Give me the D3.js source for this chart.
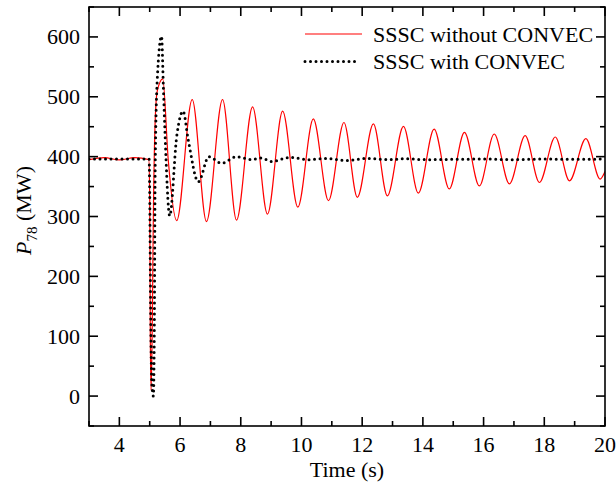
<!DOCTYPE html>
<html>
<head>
<meta charset="utf-8">
<script src="https://cdn.jsdelivr.net/npm/d3@7"></script>
<style>
  html, body { margin: 0; padding: 0; background: #fff; }
  svg { display: block; }
  text { font-family: "Liberation Serif", "Times New Roman", serif; fill: #000; }
</style>
</head>
<body>
<svg id="chart" width="616" height="484"></svg>
<script>
// ---- data ----
const seriesNames = ["SSSC without CONVEC", "SSSC with CONVEC"];

const timeWithout = [3.0, 3.5, 4.0, 4.5, 4.97, 5.0, 5.02, 5.045, 5.08, 5.12, 5.18, 5.25, 5.43, 5.61, 5.89,
  6.40, 6.87, 7.40, 7.86, 8.39, 8.88, 9.38, 9.88, 10.39, 10.89, 11.40, 11.84, 12.37, 12.83,
  13.36, 13.85, 14.37, 14.87, 15.37, 15.86, 16.35, 16.85, 17.37, 17.84, 18.36, 18.83, 19.37, 19.84, 20.0];
const powerWithout = [395, 398.5, 394.5, 398.5, 395, 330, 100, 10, 100, 300, 460, 510, 530, 395, 293,
  495.5, 291.5, 495.5, 294, 483, 304, 476, 315.5, 463, 326.6, 457, 332, 454.6, 334.5,
  450.6, 339, 446, 346, 440.6, 351, 437.8, 354.6, 435, 356.8, 432.8, 359.6, 430, 362.5, 375];

const timeWith = [3.0, 3.5, 4.0, 4.5, 4.98, 5.0, 5.03, 5.07, 5.12, 5.15, 5.18, 5.25, 5.39, 5.45, 5.5, 5.66,
  5.89, 6.10, 6.27, 6.60, 6.95, 7.37, 7.86, 8.35, 8.68, 9.01, 9.62, 10.22, 10.83, 11.49, 12.15,
  12.92, 13.36, 14.12, 15.0, 16.0, 17.0, 18.0, 19.0, 20.0];
const powerWith = [396, 396, 396, 396, 396, 340, 150, 20, 0, 100, 380, 530, 601, 517, 445, 301,
  434, 476, 428, 358, 400, 389, 400, 395, 397.6, 392, 398.7, 395, 397, 393.6, 397,
  395, 396.5, 395, 395.5, 396, 395, 396, 395.5, 396];

const xMajorTicks = [4, 6, 8, 10, 12, 14, 16, 18, 20];
const xMinorTicks = [3, 5, 7, 9, 11, 13, 15, 17, 19];
const yMajorTicks = [0, 100, 200, 300, 400, 500, 600];
const yMinorTicks = [-50, 50, 150, 250, 350, 450, 550, 650];

// ---- layout ----
const svg = d3.select("#chart");
const L = 89, R = 605, T = 7, B = 426;
const x = d3.scaleLinear().domain([3, 20]).range([L, R]);
const y = d3.scaleLinear().domain([-50, 650]).range([B, T]);

const clip = svg.append("defs").append("clipPath").attr("id", "plotclip")
  .append("rect").attr("x", L).attr("y", T).attr("width", R - L).attr("height", B - T);

const line = d3.line().x(d => x(d[0])).y(d => y(d[1])).curve(d3.curveMonotoneX);

const redData = timeWithout.map((t, i) => [t, powerWithout[i]]);
const blackData = timeWith.map((t, i) => [t, powerWith[i]]);

const plot = svg.append("g").attr("clip-path", "url(#plotclip)");
plot.append("path").datum(redData).attr("d", line)
  .attr("fill", "none").attr("stroke", "#ff0000").attr("stroke-width", 1.2);
plot.append("path").datum(blackData).attr("d", line)
  .attr("fill", "none").attr("stroke", "#000").attr("stroke-width", 3)
  .attr("stroke-linecap", "round").attr("stroke-dasharray", "0 5.5");

// ---- frame and ticks ----
const axes = svg.append("g").attr("stroke", "#000").attr("stroke-width", 1.6);
axes.append("rect").attr("x", L).attr("y", T).attr("width", R - L).attr("height", B - T).attr("fill", "none");

function xt(v, len) {
  axes.append("line").attr("x1", x(v)).attr("x2", x(v)).attr("y1", B).attr("y2", B - len);
  axes.append("line").attr("x1", x(v)).attr("x2", x(v)).attr("y1", T).attr("y2", T + len);
}
function yt(v, len) {
  axes.append("line").attr("y1", y(v)).attr("y2", y(v)).attr("x1", L).attr("x2", L + len);
  axes.append("line").attr("y1", y(v)).attr("y2", y(v)).attr("x1", R).attr("x2", R - len);
}
xMajorTicks.forEach(v => xt(v, 9));
xMinorTicks.forEach(v => xt(v, 5));
yMajorTicks.forEach(v => yt(v, 9));
yMinorTicks.forEach(v => yt(v, 5));

// tick labels
svg.append("g").selectAll("text").data(xMajorTicks).join("text")
  .attr("x", d => x(d)).attr("y", 452).attr("text-anchor", "middle")
  .attr("font-size", 22).text(d => d);
svg.append("g").selectAll("text").data(yMajorTicks).join("text")
  .attr("x", 80).attr("y", d => y(d) + 7.5).attr("text-anchor", "end")
  .attr("font-size", 22).text(d => d);

// axis titles
svg.append("text").attr("x", (L + R) / 2).attr("y", 477).attr("text-anchor", "middle")
  .attr("font-size", 22).text("Time (s)");

const yTitle = svg.append("text").attr("transform", `translate(31,${(T + B) / 2 - 6}) rotate(-90)`)
  .attr("text-anchor", "middle").attr("font-size", 22);
yTitle.append("tspan").attr("font-style", "italic").text("P");
yTitle.append("tspan").attr("font-size", 15).attr("dy", 6).text("78");
yTitle.append("tspan").attr("dy", -6).text(" (MW)");

// legend
const leg = svg.append("g");
leg.append("line").attr("x1", 305).attr("x2", 362).attr("y1", 34).attr("y2", 34)
  .attr("stroke", "#ff0000").attr("stroke-width", 1.2);
leg.append("text").attr("x", 373).attr("y", 41.5).attr("font-size", 22).text(seriesNames[0]);
leg.append("line").attr("x1", 305).attr("x2", 360).attr("y1", 61.5).attr("y2", 61.5)
  .attr("stroke", "#000").attr("stroke-width", 3).attr("stroke-linecap", "round")
  .attr("stroke-dasharray", "0 5.5");
leg.append("text").attr("x", 373).attr("y", 68.5).attr("font-size", 22).text(seriesNames[1]);
</script>
</body>
</html>
